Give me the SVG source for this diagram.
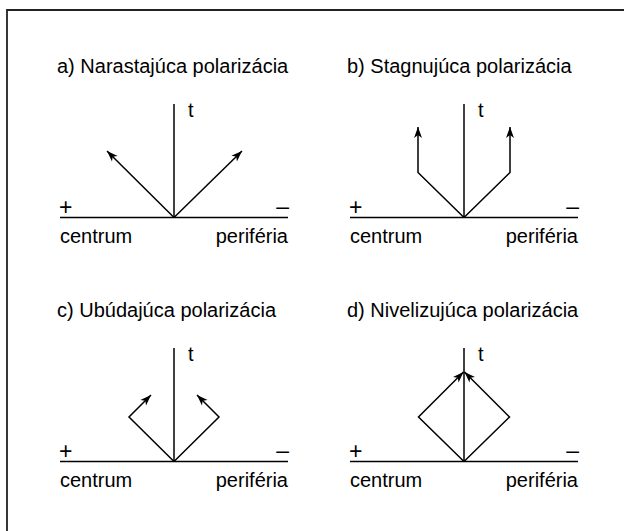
<svg xmlns="http://www.w3.org/2000/svg" width="624" height="531" viewBox="0 0 624 531">
<style>
text{font-family:"Liberation Sans",Arial,Helvetica,sans-serif;font-size:20px;fill:#000}
.sg{font-size:23px}
.ln{fill:none;stroke:#000;stroke-width:1.5}
.end{text-anchor:end}
</style>
<defs>
<marker id="ah" markerUnits="userSpaceOnUse" markerWidth="12" markerHeight="9" refX="11" refY="4" orient="auto" viewBox="0 0 12 8">
<path d="M0,0 L11,4 L0,8 L3,4 z" fill="#000"/>
</marker>
</defs>
<rect width="624" height="531" fill="#fff"/>
<path d="M7,531 V10 H624" fill="none" stroke="#222" stroke-width="1.8"/>

<g id="panel-a">
<text x="57" y="73">a) Narastajúca polarizácia</text>
<text x="188" y="117">t</text>
<text x="59" y="215" class="sg">+</text>
<text x="289" y="214" class="sg end">–</text>
<text x="60" y="243">centrum</text>
<text x="288" y="243" class="end">periféria</text>
</g>
<g id="panel-b">
<text x="347" y="73">b) Stagnujúca polarizácia</text>
<text x="478" y="117">t</text>
<text x="349" y="215" class="sg">+</text>
<text x="579" y="214" class="sg end">–</text>
<text x="350" y="243">centrum</text>
<text x="578" y="243" class="end">periféria</text>
</g>
<g id="panel-c">
<text x="57" y="317">c) Ubúdajúca polarizácia</text>
<text x="188" y="361">t</text>
<text x="59" y="459" class="sg">+</text>
<text x="289" y="458" class="sg end">–</text>
<text x="60" y="487">centrum</text>
<text x="288" y="487" class="end">periféria</text>
</g>
<g id="panel-d">
<text x="347" y="317">d) Nivelizujúca polarizácia</text>
<text x="478" y="361">t</text>
<text x="349" y="459" class="sg">+</text>
<text x="579" y="458" class="sg end">–</text>
<text x="350" y="487">centrum</text>
<text x="578" y="487" class="end">periféria</text>
</g>

<g id="connectors">
<!-- a -->
<line class="ln" x1="60" y1="217.5" x2="288" y2="217.5"/>
<line class="ln" x1="174" y1="217.5" x2="174" y2="104"/>
<line class="ln" x1="174" y1="217.5" x2="107" y2="151" marker-end="url(#ah)"/>
<line class="ln" x1="174" y1="217.5" x2="242" y2="151" marker-end="url(#ah)"/>
<!-- b -->
<line class="ln" x1="350" y1="217.5" x2="578" y2="217.5"/>
<line class="ln" x1="464" y1="217.5" x2="464" y2="104"/>
<path class="ln" d="M464,217.5 L418,172.5 V127" marker-end="url(#ah)"/>
<path class="ln" d="M464,217.5 L510,172.5 V127" marker-end="url(#ah)"/>
<!-- c -->
<line class="ln" x1="60" y1="461.5" x2="288" y2="461.5"/>
<line class="ln" x1="174" y1="461.5" x2="174" y2="348"/>
<path class="ln" d="M174,461.5 L129,417 L151,395" marker-end="url(#ah)"/>
<path class="ln" d="M174,461.5 L219,417 L197,395" marker-end="url(#ah)"/>
<!-- d -->
<line class="ln" x1="350" y1="461.5" x2="578" y2="461.5"/>
<line class="ln" x1="464" y1="461.5" x2="464" y2="348"/>
<path class="ln" d="M464,461.5 L418.5,417 L463.5,372" marker-end="url(#ah)"/>
<path class="ln" d="M464,461.5 L509.5,417 L464.5,372" marker-end="url(#ah)"/>
</g>
</svg>
